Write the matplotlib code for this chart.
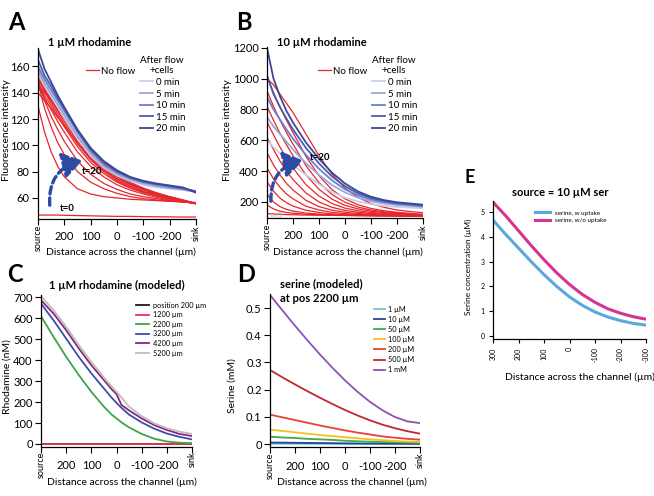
import matplotlib
matplotlib.use('Agg')
import matplotlib.pyplot as plt
from matplotlib.patches import FancyArrowPatch

plt.rcParams['font.family'] = ['Lato', 'DejaVu Sans']

# ---------------- data ----------------
X15 = [300, 275, 250, 225, 200, 150, 100, 50, 0, -50, -100, -150, -200, -250, -300]
X13 = [300, 250, 200, 150, 100, 50, 0, -50, -100, -150, -200, -250, -300]
X_C = [300, 250, 200, 150, 100, 50, 20, 0, -20, -50, -100, -150, -200, -250, -300]

flow_labels = ['0 min', '5 min', '10 min', '15 min', '20 min']
flow_colors = ['#c9cee8', '#9ba7d8', '#6b7ecb', '#4a5ab2', '#3b4892']

# Panel A: 1 uM rhodamine, no flow (t=0 .. t=20) and after flow + cells
a_noflow = [
    [47, 47, 47, 47, 46.8, 46.6, 46.4, 46.2, 46, 46, 45.8, 45.7, 45.6, 45.5, 45.5],
    [130, 110, 95, 84, 76, 67, 63, 61, 60, 59, 58.5, 58, 57.5, 57, 56.5],
    [148, 128, 114, 102, 93, 80, 72, 67, 63.5, 61, 59.5, 58.5, 57.5, 57, 56],
    [150, 134, 122, 112, 103, 88, 78, 71, 66.5, 63, 61, 59.5, 58, 57, 56],
    [145, 136, 127, 118, 110, 95, 84, 76, 70, 66, 63, 60.5, 58.5, 57, 56],
    [147, 138, 130, 122, 114, 99, 87, 78.5, 72, 67.5, 64, 61.5, 59, 57.5, 56],
    [152, 141, 132, 124, 116, 101, 89, 80, 73, 68, 64.5, 62, 59.5, 57.5, 56],
    [140, 134, 128, 121, 115, 102, 90, 81, 74, 69, 65, 62, 59.5, 57.5, 55.5],
    [155, 143, 134, 126, 118, 103, 91, 82, 75, 70, 66, 62.5, 60, 58, 56],
    [157, 145, 136, 128, 120, 105, 92, 83, 76, 70.5, 66.5, 63, 60.5, 58, 55.5],
    [150, 142, 135, 128, 121, 106, 93, 84, 77, 71, 67, 63.5, 61, 58.5, 55.5],
    [147, 140, 134, 127, 121, 107, 94.5, 85, 78, 72, 67.5, 64, 61, 58.5, 56],
]
a_flow = [
    [155, 145, 137, 129, 121, 105, 92, 83, 77, 73, 70, 68, 67, 66, 65],
    [157, 147, 139, 131, 123, 107, 94, 84, 78, 74, 71, 69, 67.5, 66.5, 64.5],
    [160, 150, 142, 134, 126, 110, 96, 86, 79.5, 75, 72, 70, 68.5, 67, 65],
    [165, 153, 145, 136, 128, 111, 97, 87, 80, 75.5, 72.5, 70.5, 69, 67.5, 65],
    [173, 158, 148, 138, 129, 112, 98, 88, 81, 76, 73, 71, 69.5, 68, 64],
]

# Panel B: 10 uM rhodamine
b_noflow = [
    [125, 122, 120, 118, 117, 115, 114, 113, 112, 111, 110, 110, 109, 108, 108],
    [180, 155, 140, 132, 127, 120, 117, 115, 113, 112, 111, 110, 110, 109, 108],
    [250, 200, 170, 152, 141, 128, 121, 117, 114, 113, 112, 111, 110, 109, 108],
    [330, 270, 225, 195, 173, 146, 132, 123, 118, 115, 113, 112, 111, 110, 109],
    [420, 350, 295, 252, 220, 172, 148, 133, 124, 119, 116, 114, 112, 111, 110],
    [520, 440, 375, 320, 278, 210, 170, 147, 133, 125, 120, 117, 114, 112, 111],
    [620, 540, 465, 400, 345, 258, 200, 165, 145, 133, 125, 120, 117, 114, 112],
    [720, 635, 555, 485, 420, 312, 238, 190, 160, 143, 132, 125, 120, 116, 113],
    [820, 730, 645, 570, 500, 375, 282, 218, 178, 155, 140, 131, 124, 119, 115],
    [920, 820, 730, 650, 575, 435, 325, 248, 198, 167, 148, 136, 128, 122, 117],
    [1010, 910, 815, 730, 650, 495, 370, 280, 220, 182, 158, 143, 133, 126, 120],
    [1000, 960, 900, 840, 780, 640, 500, 380, 290, 230, 190, 165, 148, 138, 130],
]
b_flow = [
    [600, 555, 515, 475, 440, 375, 315, 265, 228, 203, 186, 175, 168, 163, 160],
    [750, 690, 640, 590, 540, 450, 375, 310, 262, 228, 205, 190, 180, 174, 168],
    [880, 800, 735, 670, 610, 505, 415, 340, 282, 243, 216, 199, 188, 181, 173],
    [1020, 900, 815, 740, 670, 550, 450, 365, 302, 256, 226, 206, 193, 186, 178],
    [1200, 1000, 885, 790, 715, 585, 480, 390, 320, 268, 234, 212, 198, 190, 182],
]

# Panel C: 1 uM rhodamine (modeled), per position
c_labels = ['position 200 µm', '1200 µm', '2200 µm', '3200 µm', '4200 µm', '5200 µm']
c_colors = ['#1a1a1a', '#e8384f', '#3aa54a', '#3a4fa6', '#8e237f', '#bdbdbd']
c_values = [
    [0, 0, 0, 0, 0, 0, 0, 0, 0, 0, 0, 0, 0, 0, 0],
    [1, 1, 1, 1, 1, 1, 1, 1, 1, 1, 1, 1, 1, 1, 1],
    [610, 511, 416, 329, 249, 178, 141, 122, 103, 79, 48, 25, 12, 6, 4],
    [670, 590, 503, 416, 337, 265, 222, 196, 172, 140, 103, 73, 50, 34, 22],
    [686, 622, 543, 456, 376, 305, 262, 238, 186, 160, 122, 90, 67, 48, 38],
    [705, 638, 559, 472, 392, 317, 275, 249, 222, 178, 133, 98, 75, 59, 48],
]

# Panel D: serine (modeled) at pos 2200 um
d_labels = ['1 µM', '10 µM', '50 µM', '100 µM', '200 µM', '500 µM', '1 mM']
d_colors = ['#6cc9d3', '#2d3f9e', '#3aac4c', '#f1c31b', '#e8403a', '#c1272d', '#8d52b3']
d_values = [
    [0.0006, 0.00055, 0.0005, 0.00045, 0.0004, 0.00035, 0.0003, 0.00025, 0.0002, 0.00017, 0.00014, 0.00012, 0.0001],
    [0.0055, 0.005, 0.0045, 0.004, 0.0035, 0.003, 0.0025, 0.002, 0.0017, 0.0014, 0.0012, 0.001, 0.0008],
    [0.027, 0.024, 0.022, 0.019, 0.017, 0.015, 0.012, 0.010, 0.0085, 0.007, 0.006, 0.005, 0.004],
    [0.053, 0.048, 0.043, 0.038, 0.033, 0.029, 0.025, 0.021, 0.017, 0.014, 0.011, 0.009, 0.008],
    [0.108, 0.098, 0.088, 0.078, 0.068, 0.059, 0.050, 0.042, 0.035, 0.028, 0.023, 0.019, 0.016],
    [0.272, 0.245, 0.219, 0.194, 0.170, 0.147, 0.125, 0.105, 0.087, 0.071, 0.058, 0.047, 0.038],
    [0.548, 0.491, 0.435, 0.381, 0.329, 0.280, 0.234, 0.192, 0.155, 0.124, 0.099, 0.083, 0.077],
]

# Panel E: source = 10 uM ser
e_labels = ['serine, w uptake', 'serine, w/o uptake']
e_colors = ['#5aa8dc', '#d6358f']
e_values = [
    [4.68, 4.10, 3.55, 3.00, 2.48, 2.00, 1.58, 1.24, 0.97, 0.77, 0.62, 0.51, 0.44],
    [5.40, 4.85, 4.25, 3.65, 3.08, 2.55, 2.08, 1.68, 1.36, 1.10, 0.92, 0.78, 0.68],
]

xticks = [300, 200, 100, 0, -100, -200, -300]
xticklabels = ['', '200', '100', '0', '-100', '-200', '']
e_xticklabels = ['300', '200', '100', '0', '-100', '-200', '-300']

RED = '#e5262d'
ARROW = '#2f4aa3'

# ---------------- figure ----------------
W, H = 654, 496
fig = plt.figure(figsize=(W / 100, H / 100), dpi=100)


def ax_at(l, t, r, b):
    return fig.add_axes([l / W, 1 - b / H, (r - l) / W, (b - t) / H])


def ftext(px, py, s, **kw):
    return fig.text(px / W, 1 - py / H, s, **kw)


def style(ax, fs=8, xpad=4.5):
    for s in ['top', 'right']:
        ax.spines[s].set_visible(False)
    for s in ['left', 'bottom']:
        ax.spines[s].set_linewidth(0.9)
    ax.tick_params(direction='out', length=4, width=0.8, labelsize=fs, pad=2)
    ax.tick_params(axis='x', pad=xpad)
    ax.patch.set_alpha(0)


def channel_x(ax):
    ax.set_xlim(300, -300)
    ax.set_xticks(xticks)
    ax.set_xticklabels(xticklabels)
    tr = ax.get_xaxis_transform()
    ax.text(300, -0.035, 'source', transform=tr, rotation=90, ha='center', va='top', fontsize=6.5)
    ax.text(-300, -0.035, 'sink', transform=tr, rotation=90, ha='center', va='top', fontsize=6.5)


XLAB = 'Distance across the channel (µm)'

# ---- Panel A ----
axA = ax_at(38, 48, 196, 219)
style(axA)
channel_x(axA)
red_handle = None
for i, v in enumerate(a_noflow):
    ln, = axA.plot(X15, v, color=RED, lw=0.9)
    if i == 0:
        red_handle = ln
flowA = []
for v, c, lab in zip(a_flow, flow_colors, flow_labels):
    ln, = axA.plot(X15, v, color=c, lw=1.3, label=lab)
    flowA.append(ln)
axA.set_ylim(44, 174)
axA.set_yticks([60, 80, 100, 120, 140, 160])

# ---- Panel B ----
axB = ax_at(267, 47, 423, 218)
style(axB)
channel_x(axB)
for i, v in enumerate(b_noflow):
    axB.plot(X15, v, color=RED, lw=0.9)
flowB = []
for v, c, lab in zip(b_flow, flow_colors, flow_labels):
    ln, = axB.plot(X15, v, color=c, lw=1.3, label=lab)
    flowB.append(ln)
axB.set_ylim(96, 1205)
axB.set_yticks([200, 400, 600, 800, 1000, 1200])

# legends A and B
for ax, handles, nfx, blx in [(axA, flowA, 81, 135), (axB, flowB, 313, 367)]:
    lg1 = ax.legend([red_handle], ['No flow'], loc='center left',
                    bbox_to_anchor=(nfx / W, 1 - 71 / H), bbox_transform=fig.transFigure,
                    frameon=False, fontsize=7, handlelength=1.3, handletextpad=0.3, borderpad=0)
    ax.add_artist(lg1)
    lg2 = ax.legend(handles, [h.get_label() for h in handles], loc='upper left',
                    title='After flow\n+cells', title_fontsize=7,
                    bbox_to_anchor=(blx / W, 1 - 51 / H), bbox_transform=fig.transFigure,
                    frameon=False, fontsize=7, handlelength=1.3, handletextpad=0.4,
                    borderpad=0, labelspacing=0.27)
    lg2._legend_box.align = 'left'
    lg2.get_title().set_multialignment('center')

# arrows and t labels
for (p0, p1, rad) in [((50, 208), (85, 160), -0.45), ((271, 204), (306, 160), -0.45)]:
    arr = FancyArrowPatch((p0[0] / W, 1 - p0[1] / H), (p1[0] / W, 1 - p1[1] / H),
                          transform=fig.transFigure, connectionstyle=f'arc3,rad={rad}',
                          arrowstyle='-|>,head_length=0.9,head_width=0.6', mutation_scale=13,
                          color=ARROW, lw=2.4, linestyle=(0, (2.2, 1.2)))
    fig.add_artist(arr)
ftext(60, 208, 't=0', fontsize=7, fontweight='bold', va='center')
ftext(82, 172, 't=20', fontsize=7, fontweight='bold', va='center')
ftext(270, 215, 't=0', fontsize=6, color='#bbbbbb', va='center')
ftext(310, 157, 't=20', fontsize=7, fontweight='bold', va='center')

# ---- Panel C ----
axC = ax_at(41, 295.2, 192, 446.5)
style(axC, xpad=6)
channel_x(axC)
for v, c, lab in zip(c_values, c_colors, c_labels):
    axC.plot(X_C, v, color=c, lw=1.3, label=lab)
axC.set_ylim(-12, 710)
axC.set_yticks([0, 100, 200, 300, 400, 500, 600, 700])
axC.legend(loc='upper left', bbox_to_anchor=(132 / W, 1 - 298 / H), bbox_transform=fig.transFigure,
           frameon=False, fontsize=5.3, handlelength=1.8, handletextpad=0.6, borderpad=0,
           labelspacing=0.35)

# ---- Panel D ----
axD = ax_at(270, 293.6, 420, 447)
style(axD, xpad=6)
channel_x(axD)
for v, c, lab in zip(d_values, d_colors, d_labels):
    axD.plot(X13, v, color=c, lw=1.3, label=lab)
axD.set_ylim(-0.011, 0.553)
axD.set_yticks([0, 0.1, 0.2, 0.3, 0.4, 0.5])
axD.set_yticklabels(['0', '0.1', '0.2', '0.3', '0.4', '0.5'])
axD.legend(loc='upper left', bbox_to_anchor=(370 / W, 1 - 302 / H), bbox_transform=fig.transFigure,
           frameon=False, fontsize=5.3, handlelength=1.6, handletextpad=0.4, borderpad=0,
           labelspacing=0.42)

# ---- Panel E ----
axE = ax_at(493, 201, 646, 339)
style(axE, fs=5, xpad=3)
for v, c, lab in zip(e_values, e_colors, e_labels):
    axE.plot(X13, v, color=c, lw=2.2, label=lab)
axE.set_xlim(300, -300)
axE.set_xticks(xticks)
axE.set_xticklabels(e_xticklabels, rotation=90)
axE.set_ylim(-0.12, 5.45)
axE.set_yticks([0, 1, 2, 3, 4, 5])
axE.tick_params(length=3)
axE.tick_params(axis='y', pad=3)
axE.legend(loc='upper left', bbox_to_anchor=(532 / W, 1 - 207 / H), bbox_transform=fig.transFigure,
           frameon=False, fontsize=4.5, handlelength=2.4, handletextpad=0.8, borderpad=0,
           labelspacing=0.4)

# ---- axis labels (placed at reference pixel positions) ----
ftext(121, 252, XLAB, fontsize=7.5, va='center', ha='center')
ftext(348, 252, XLAB, fontsize=7.5, va='center', ha='center')
ftext(122, 482, XLAB, fontsize=7.5, va='center', ha='center')
ftext(352, 482, XLAB, fontsize=7.5, va='center', ha='center')
ftext(505, 377, XLAB, fontsize=7.5, va='center', ha='left')
ftext(7, 130, 'Fluorescence intensity', fontsize=7.5, rotation=90, va='center', ha='center')
ftext(227, 130, 'Fluorescence intensity', fontsize=7.5, rotation=90, va='center', ha='center')
ftext(7, 377, 'Rhodamine (nM)', fontsize=7.5, rotation=90, va='center', ha='center')
ftext(232, 386, 'Serine (mM)', fontsize=7.5, rotation=90, va='center', ha='center')
ftext(468, 267, 'Serine concentration (µM)', fontsize=6, rotation=90, va='center', ha='center')

# ---- titles & letters ----
ftext(48, 43, '1 µM rhodamine', fontsize=8, fontweight='bold', va='center')
ftext(277, 43, '10 µM rhodamine', fontsize=8, fontweight='bold', va='center')
ftext(49, 285, '1 µM rhodamine (modeled)', fontsize=8, fontweight='bold', va='center')
ftext(280, 284, 'serine (modeled)', fontsize=8, fontweight='bold', va='center')
ftext(280, 298, 'at pos 2200 µm', fontsize=8, fontweight='bold', va='center')
ftext(560, 193, 'source = 10 µM ser', fontsize=8, fontweight='bold', va='center', ha='center')

ftext(8, 23, 'A', fontsize=17, fontweight='bold', va='center')
ftext(236, 23, 'B', fontsize=17, fontweight='bold', va='center')
ftext(7, 275, 'C', fontsize=17, fontweight='bold', va='center')
ftext(237, 275, 'D', fontsize=17, fontweight='bold', va='center')
ftext(465, 177, 'E', fontsize=13, fontweight='bold', va='center')

fig.savefig('out.png', dpi=100)
